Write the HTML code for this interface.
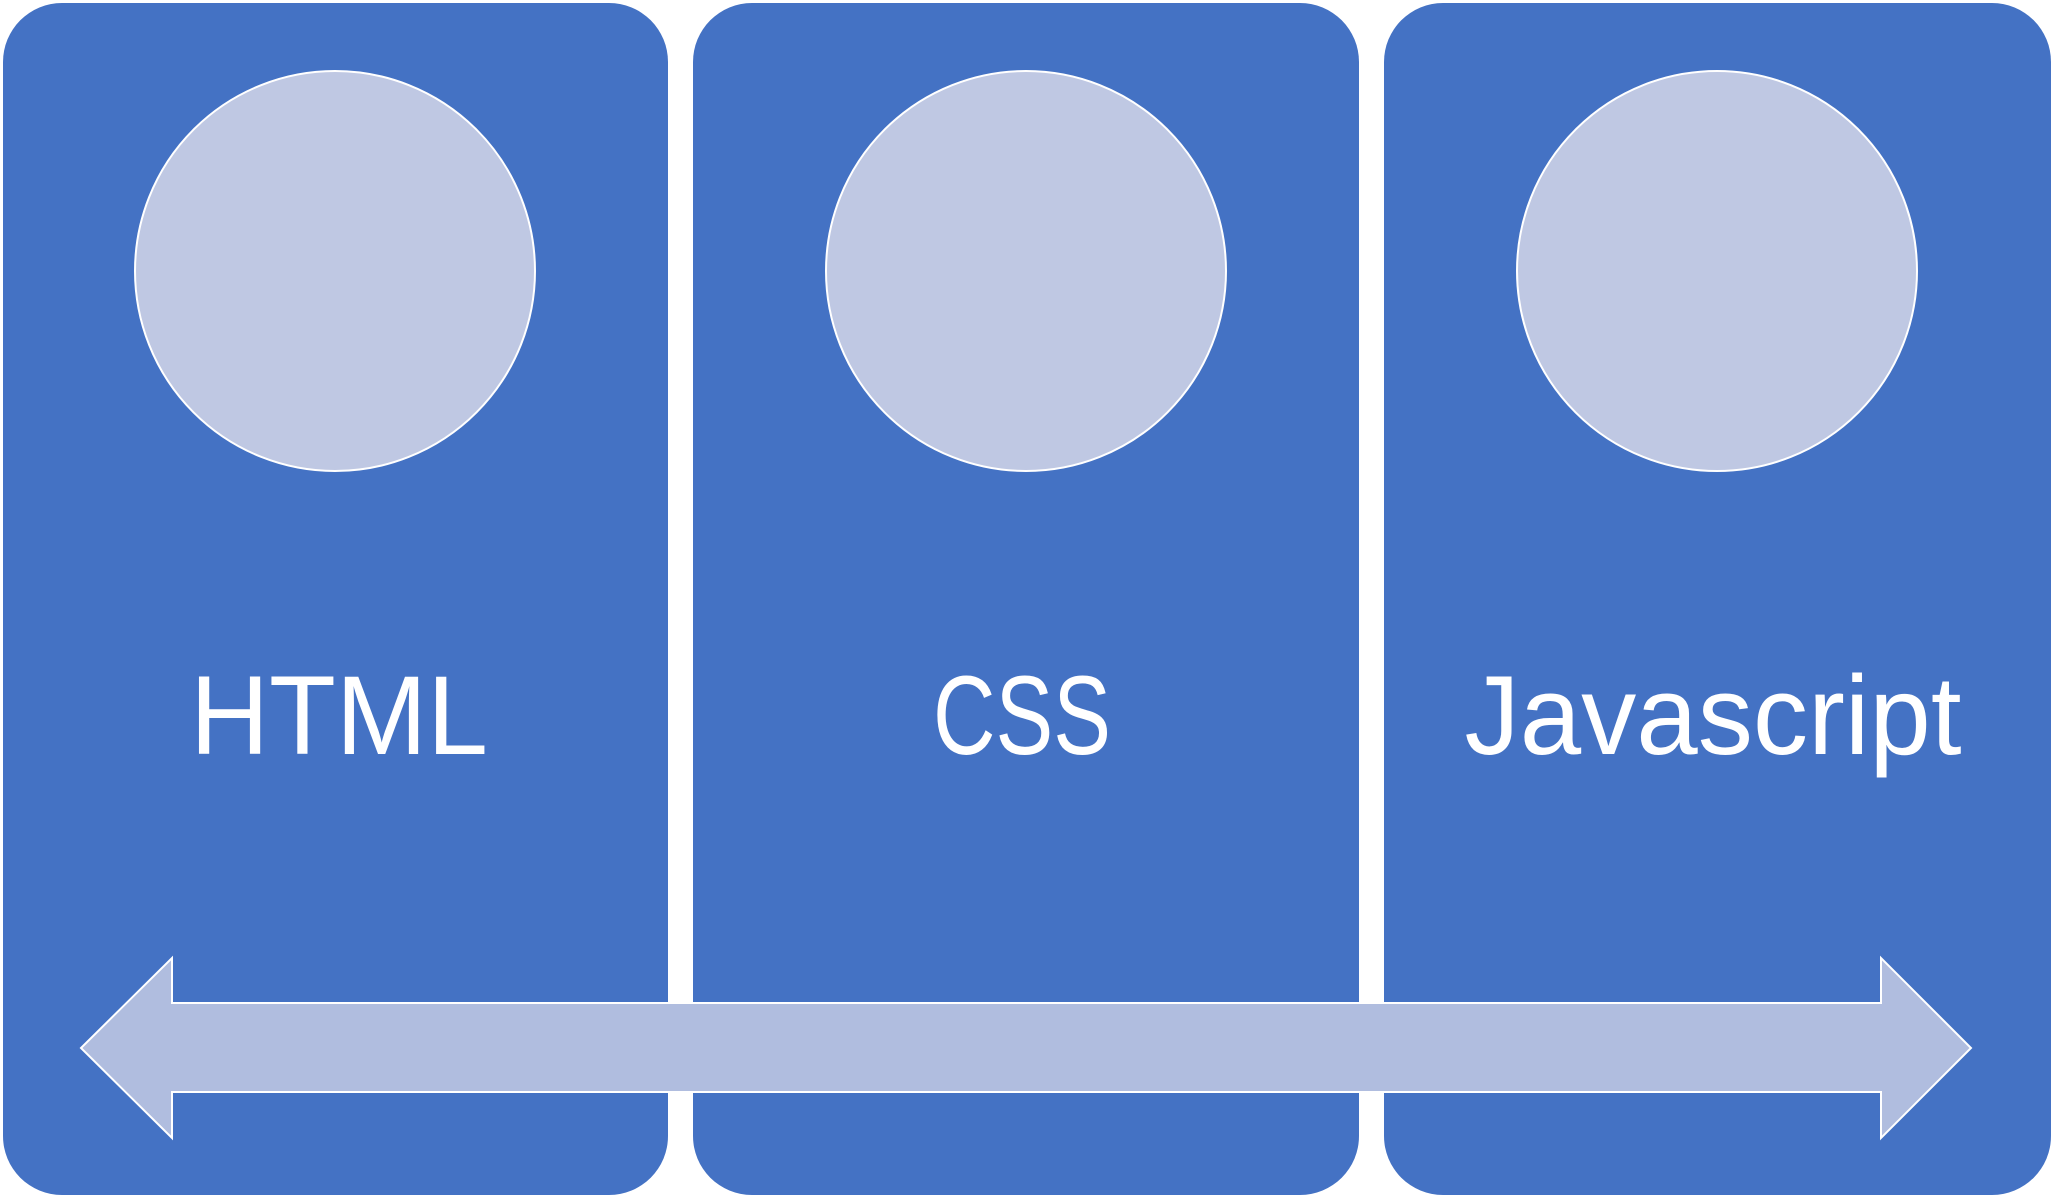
<!DOCTYPE html>
<html><head><style>html,body{margin:0;padding:0;background:#fff;}svg{display:block}</style></head>
<body>
<svg width="2055" height="1200" viewBox="0 0 2055 1200" xmlns="http://www.w3.org/2000/svg">
<rect x="3" y="3" width="665" height="1192" rx="59" fill="#4472c4"/>
<rect x="693" y="3" width="666" height="1192" rx="59" fill="#4472c4"/>
<rect x="1384" y="3" width="667" height="1192" rx="59" fill="#4472c4"/>
<circle cx="335" cy="271" r="200" fill="#bfc8e3" stroke="#fff" stroke-width="2"/>
<circle cx="1026" cy="271" r="200" fill="#bfc8e3" stroke="#fff" stroke-width="2"/>
<circle cx="1717" cy="271" r="200" fill="#bfc8e3" stroke="#fff" stroke-width="2"/>
<g font-family="Liberation Sans, sans-serif" font-size="112" fill="#fff" text-anchor="middle">
<text x="339" y="754" textLength="298" lengthAdjust="spacingAndGlyphs">HTML</text>
<text x="1022" y="754" textLength="178" lengthAdjust="spacingAndGlyphs">CSS</text>
<text x="1713" y="754" textLength="497" lengthAdjust="spacingAndGlyphs">Javascript</text>
</g>
<polygon points="81,1048 172,958 172,1003 1881,1003 1881,958 1971,1048 1881,1138 1881,1092 172,1092 172,1138" fill="#b0bddf" stroke="#fff" stroke-width="2"/>
</svg>
</body></html>
